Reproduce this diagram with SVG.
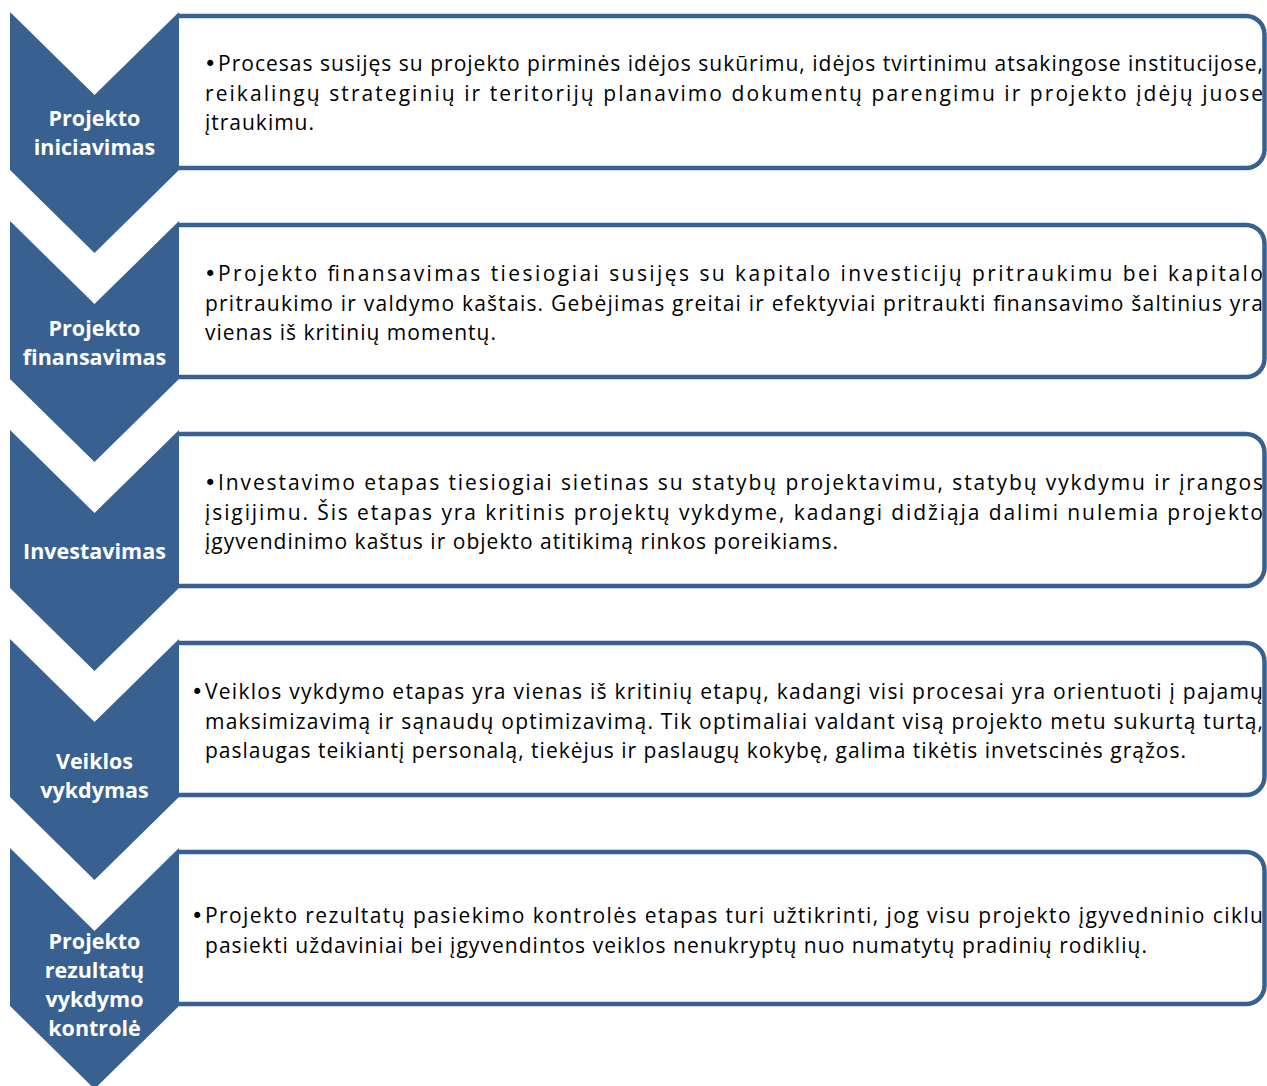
<svg xmlns="http://www.w3.org/2000/svg" width="1267" height="1086" viewBox="0 0 1267 1086">
<style>
.chev{fill:#386192;}
.box{fill:#ffffff;stroke:#386192;stroke-width:4.5;}
.lbl{font-family:"Open Sans","Noto Sans","Liberation Sans",sans-serif;font-weight:bold;font-size:21.5px;fill:#ffffff;text-anchor:middle;}
.txt{font-family:"Open Sans","Noto Sans","Liberation Sans",sans-serif;font-size:21px;fill:#000000;}
.bul{font-family:"DejaVu Sans","Liberation Sans",sans-serif;font-size:21px;fill:#000000;}
</style>
<rect width="1267" height="1086" fill="#ffffff"/>
<g id="connectors"></g>

<g id="node1">
<path class="box" d="M179,16 H1246 A18.5,18.5 0 0 1 1264.5,34.5 V149.5 A18.5,18.5 0 0 1 1246,168 H179"/>
<path class="chev" d="M10,12 L94.5,95 L179,12 V170 L94.5,253 L10,170 Z"/>
<text class="lbl" x="94.5" y="126">Projekto</text>
<text class="lbl" x="94.5" y="155">iniciavimas</text>
<text class="bul" x="204" y="71">•</text>
<text class="txt" x="218" y="71" textLength="1045" lengthAdjust="spacing">Procesas susijęs su projekto pirminės idėjos sukūrimu, idėjos tvirtinimu atsakingose institucijose,</text>
<text class="txt" x="205" y="100.5" textLength="1058" lengthAdjust="spacing">reikalingų strateginių ir teritorijų planavimo dokumentų parengimu ir projekto įdėjų juose</text>
<text class="txt" x="205" y="130" textLength="109" lengthAdjust="spacing">įtraukimu.</text>
</g>

<g id="node2">
<path class="box" d="M179,225 H1246 A18.5,18.5 0 0 1 1264.5,243.5 V358.5 A18.5,18.5 0 0 1 1246,377 H179"/>
<path class="chev" d="M10,221 L94.5,304 L179,221 V379 L94.5,462 L10,379 Z"/>
<text class="lbl" x="94.5" y="336">Projekto</text>
<text class="lbl" x="94.5" y="365">finansavimas</text>
<text class="bul" x="204" y="281">•</text>
<text class="txt" x="218" y="281" textLength="1045" lengthAdjust="spacing">Projekto finansavimas tiesiogiai susijęs su kapitalo investicijų pritraukimu bei kapitalo</text>
<text class="txt" x="205" y="310.5" textLength="1058" lengthAdjust="spacing">pritraukimo ir valdymo kaštais. Gebėjimas greitai ir efektyviai  pritraukti finansavimo šaltinius yra</text>
<text class="txt" x="205" y="340" textLength="291" lengthAdjust="spacing">vienas iš kritinių momentų.</text>
</g>

<g id="node3">
<path class="box" d="M179,434 H1246 A18.5,18.5 0 0 1 1264.5,452.5 V567.5 A18.5,18.5 0 0 1 1246,586 H179"/>
<path class="chev" d="M10,430 L94.5,513 L179,430 V588 L94.5,671 L10,588 Z"/>
<text class="lbl" x="94.5" y="559">Investavimas</text>
<text class="bul" x="204" y="490">•</text>
<text class="txt" x="218" y="490" textLength="1045" lengthAdjust="spacing">Investavimo etapas tiesiogiai sietinas su statybų projektavimu, statybų vykdymu ir įrangos</text>
<text class="txt" x="205" y="519.5" textLength="1058" lengthAdjust="spacing">įsigijimu. Šis etapas yra kritinis projektų vykdyme, kadangi didžiąja dalimi nulemia projekto</text>
<text class="txt" x="205" y="549" textLength="633" lengthAdjust="spacing">įgyvendinimo kaštus ir objekto atitikimą rinkos poreikiams.</text>
</g>

<g id="node4">
<path class="box" d="M179,643 H1246 A18.5,18.5 0 0 1 1264.5,661.5 V776.5 A18.5,18.5 0 0 1 1246,795 H179"/>
<path class="chev" d="M10,639 L94.5,722 L179,639 V797 L94.5,880 L10,797 Z"/>
<text class="lbl" x="94.5" y="769">Veiklos</text>
<text class="lbl" x="94.5" y="798">vykdymas</text>
<text class="bul" x="191" y="699">•</text>
<text class="txt" x="205" y="699" textLength="1058" lengthAdjust="spacing">Veiklos vykdymo etapas  yra vienas iš kritinių etapų, kadangi  visi procesai yra orientuoti į pajamų</text>
<text class="txt" x="205" y="728.5" textLength="1058" lengthAdjust="spacing">maksimizavimą ir sąnaudų optimizavimą. Tik optimaliai valdant visą projekto metu sukurtą turtą,</text>
<text class="txt" x="205" y="758" textLength="981" lengthAdjust="spacing">paslaugas teikiantį personalą, tiekėjus ir paslaugų kokybę, galima tikėtis invetscinės grąžos.</text>
</g>

<g id="node5">
<path class="box" d="M179,852 H1246 A18.5,18.5 0 0 1 1264.5,870.5 V985.5 A18.5,18.5 0 0 1 1246,1004 H179"/>
<path class="chev" d="M10,848 L94.5,931 L179,848 V1006 L94.5,1089 L10,1006 Z"/>
<text class="lbl" x="94.5" y="949">Projekto</text>
<text class="lbl" x="94.5" y="978">rezultatų</text>
<text class="lbl" x="94.5" y="1007">vykdymo</text>
<text class="lbl" x="94.5" y="1036">kontrolė</text>
<text class="bul" x="191" y="923">•</text>
<text class="txt" x="205" y="923" textLength="1058" lengthAdjust="spacing">Projekto rezultatų pasiekimo kontrolės etapas turi užtikrinti, jog visu projekto įgyvedninio ciklu</text>
<text class="txt" x="205" y="952.5" textLength="942" lengthAdjust="spacing">pasiekti uždaviniai bei įgyvendintos veiklos nenukryptų nuo numatytų pradinių rodiklių.</text>
</g>
</svg>
